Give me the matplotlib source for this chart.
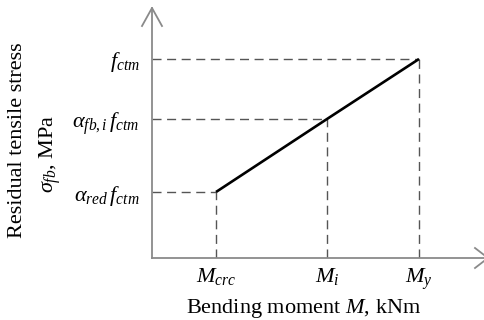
import matplotlib
matplotlib.use("Agg")
import matplotlib.pyplot as plt

plt.rcParams['font.family'] = ['Liberation Serif']
plt.rcParams['mathtext.fontset'] = 'custom'
plt.rcParams['mathtext.rm'] = 'Liberation Serif'
plt.rcParams['mathtext.it'] = 'Liberation Serif:italic'
plt.rcParams['mathtext.bf'] = 'Liberation Serif:bold'

# schematic positions of the characteristic points
moments = [64, 175, 267]
moment_labels = [r'$M_{crc}$', r'$M_i$', r'$M_y$']
stresses = [66, 139, 199]
stress_labels = [r'$\alpha_{red}\,f_{ctm}$', r'$\alpha_{fb,i}\,f_{ctm}$', r'$f_{ctm}$']

W, H = 485, 320
fig = plt.figure(figsize=(W / 100, H / 100), dpi=100)
x0, y0, x1, y1 = 152, 258, 485, 8
ax = fig.add_axes([x0 / W, 1 - y0 / H, (x1 - x0) / W, (y0 - y1) / H])
ax.set_xlim(0, x1 - x0)
ax.set_ylim(0, y0 - y1)

axis_col = '#8a8a8a'
dash_col = '#555555'
for s in ['top', 'right']:
    ax.spines[s].set_visible(False)
for s in ['left', 'bottom']:
    ax.spines[s].set_color(axis_col)
    ax.spines[s].set_linewidth(1.3)

# guide lines to the axes
for m, s in zip(moments, stresses):
    ax.plot([0, m], [s, s], ls=(0, (6.5, 4)), color=dash_col, lw=1.0)
    ax.plot([m, m], [0, s], ls=(0, (6.5, 4)), color=dash_col, lw=1.0)

ax.plot(moments, stresses, color='black', lw=1.9, solid_capstyle='butt')

# open arrowheads at the axis ends
ax.plot([-10, 0, 10], [232, 250, 232], color=axis_col, lw=1.3, clip_on=False)
ax.plot([323, 336, 323], [10, 0, -10], color=axis_col, lw=1.3, clip_on=False)

ax.set_xticks(moments, moment_labels, fontsize=16)
ax.set_yticks(stresses, stress_labels, fontsize=16)
ax.tick_params(length=0)
ax.tick_params(axis='y', pad=9)
ax.tick_params(axis='x', pad=6)

ax.set_xlabel(r'Bending moment $M$, kNm', fontsize=16)
ax.xaxis.set_label_coords(0.456, -0.155)

# two-line y label, each line placed on its own
fig.text(18 / W, 1 - 140 / H, 'Residual tensile stress', rotation=90,
         ha='center', va='center', fontsize=16)
fig.text(50 / W, 1 - 154 / H, r'$\sigma_{fb}$, MPa', rotation=90,
         ha='center', va='center', fontsize=16)

fig.savefig('out.png', dpi=100)
